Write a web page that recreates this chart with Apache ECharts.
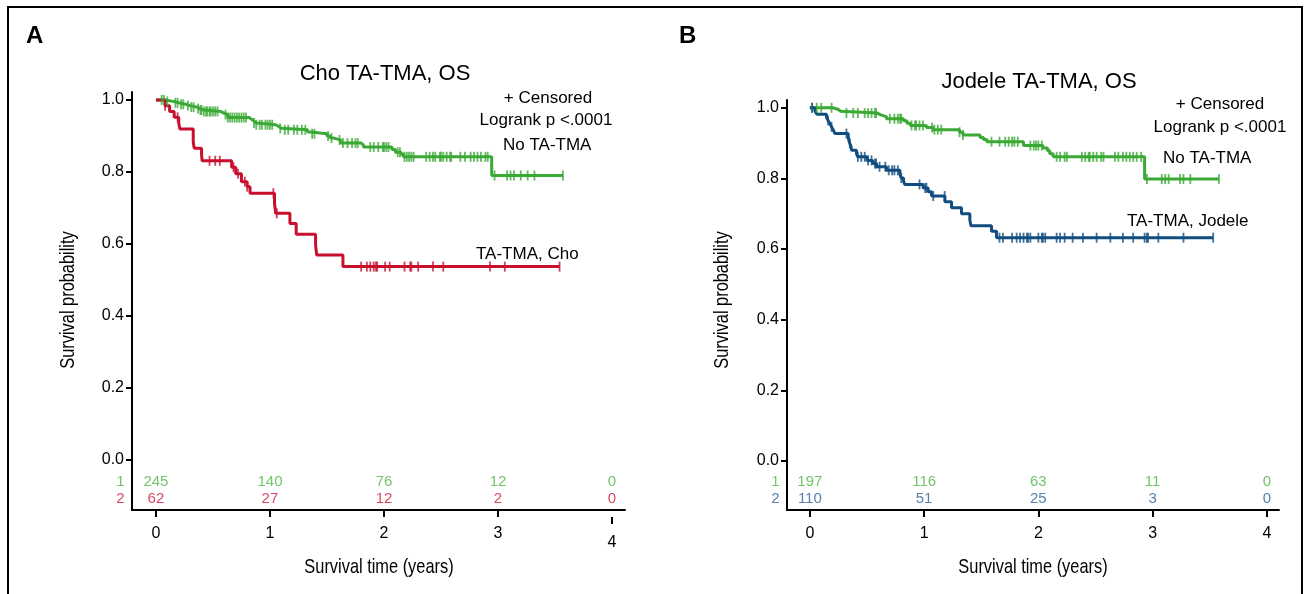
<!DOCTYPE html>
<html>
<head>
<meta charset="utf-8">
<script src="https://cdn.jsdelivr.net/npm/echarts@6/dist/echarts.min.js"></script>
<style>html,body{margin:0;padding:0;background:#fff;}#c{width:1305px;height:594px;}</style>
</head>
<body>
<div id="c"></div>
<script>
// ---------- DATA ----------
const xTicks = [0, 1, 2, 3, 4];
const yTicks = [0, 0.2, 0.4, 0.6, 0.8, 1.0];
const riskTimes = [0, 1, 2, 3, 4];

// Panel A (Cho) - steps: [time, survival after event]
const aGreenSteps = [[0,1],[0.08,0.996],[0.15,0.992],[0.20,0.988],[0.26,0.984],[0.30,0.980],[0.36,0.976],[0.38,0.972],[0.42,0.968],[0.57,0.964],[0.59,0.959],[0.63,0.951],[0.82,0.946],[0.84,0.941],[0.86,0.936],[0.88,0.931],[1.05,0.926],[1.08,0.921],[1.10,0.917],[1.33,0.911],[1.36,0.906],[1.50,0.900],[1.53,0.894],[1.56,0.889],[1.62,0.880],[1.80,0.875],[1.82,0.869],[2.07,0.862],[2.10,0.855],[2.15,0.849],[2.17,0.842],[2.945,0.790]];
const aGreenEnd = 3.57;
const aGreenCens = [0.05,0.07,0.10,0.17,0.19,0.22,0.24,0.28,0.31,0.33,0.37,0.39,0.40,0.42,0.44,0.45,0.47,0.48,0.50,0.52,0.54,0.61,0.63,0.65,0.67,0.69,0.71,0.73,0.75,0.77,0.79,0.86,0.88,0.91,0.93,0.96,0.98,1.00,1.02,1.09,1.13,1.16,1.21,1.24,1.28,1.31,1.37,1.39,1.51,1.54,1.61,1.64,1.68,1.72,1.75,1.77,1.88,1.91,1.95,1.99,2.00,2.02,2.04,2.12,2.14,2.18,2.20,2.22,2.24,2.26,2.37,2.40,2.43,2.45,2.49,2.50,2.52,2.55,2.58,2.59,2.67,2.71,2.76,2.79,2.82,2.85,2.89,2.91,2.97,3.08,3.11,3.14,3.20,3.26,3.32,3.57];

const aRedSteps = [[0,1],[0.08,0.984],[0.12,0.968],[0.16,0.952],[0.20,0.935],[0.21,0.919],[0.327,0.884],[0.335,0.866],[0.40,0.849],[0.405,0.831],[0.664,0.813],[0.70,0.795],[0.75,0.773],[0.80,0.759],[0.825,0.741],[1.04,0.713],[1.05,0.685],[1.175,0.657],[1.23,0.627],[1.40,0.598],[1.41,0.569],[1.64,0.537]];
const aRedEnd = 3.54;
const aRedCens = [0.08,0.19,0.47,0.52,0.56,0.68,0.72,0.78,0.80,1.03,1.06,1.80,1.85,1.88,1.91,1.93,1.94,2.01,2.05,2.18,2.23,2.24,2.30,2.43,2.52,2.93,3.06,3.54];

const aRisk1 = [245, 140, 76, 12, 0];
const aRisk2 = [62, 27, 12, 2, 0];

// Panel B (Jodele)
const bGreenSteps = [[0,1],[0.20,0.995],[0.25,0.990],[0.27,0.985],[0.59,0.980],[0.62,0.975],[0.67,0.969],[0.82,0.963],[0.85,0.956],[0.88,0.950],[1.02,0.944],[1.08,0.938],[1.31,0.931],[1.34,0.923],[1.49,0.916],[1.52,0.910],[1.55,0.904],[1.87,0.893],[2.04,0.886],[2.08,0.878],[2.10,0.870],[2.13,0.861],[2.93,0.798]];
const bGreenEnd = 3.58;
const bGreenCens = [0.02,0.06,0.10,0.19,0.32,0.38,0.42,0.48,0.51,0.54,0.57,0.58,0.70,0.74,0.77,0.79,0.80,0.89,0.92,0.93,0.96,0.99,1.07,1.09,1.12,1.15,1.31,1.34,1.59,1.66,1.71,1.74,1.77,1.79,1.82,1.93,1.96,1.98,2.00,2.03,2.16,2.19,2.23,2.25,2.38,2.41,2.44,2.45,2.48,2.51,2.55,2.57,2.67,2.70,2.74,2.77,2.80,2.83,2.86,2.90,2.95,3.08,3.11,3.14,3.24,3.27,3.33,3.58];

const bBlueSteps = [[0,1],[0.045,0.991],[0.06,0.982],[0.146,0.973],[0.16,0.964],[0.175,0.955],[0.19,0.946],[0.205,0.937],[0.22,0.927],[0.336,0.918],[0.34,0.909],[0.35,0.899],[0.36,0.890],[0.365,0.880],[0.408,0.870],[0.42,0.861],[0.50,0.851],[0.55,0.842],[0.584,0.833],[0.671,0.823],[0.788,0.812],[0.80,0.801],[0.82,0.792],[0.831,0.783],[0.992,0.773],[1.036,0.762],[1.065,0.750],[1.182,0.734],[1.24,0.717],[1.327,0.700],[1.40,0.683],[1.41,0.666],[1.59,0.650],[1.634,0.632]];
const bBlueEnd = 3.53;
const bBlueCens = [0.02,0.16,0.19,0.32,0.35,0.42,0.45,0.48,0.51,0.54,0.57,0.58,0.61,0.66,0.69,0.72,0.74,0.77,0.80,0.96,1.01,1.02,1.08,1.18,1.66,1.69,1.77,1.81,1.84,1.87,1.90,1.91,1.93,2.00,2.03,2.04,2.06,2.16,2.19,2.23,2.30,2.39,2.51,2.63,2.74,2.83,2.93,2.95,2.96,3.05,3.27,3.53];

const bRisk1 = [197, 116, 63, 11, 0];
const bRisk2 = [110, 51, 25, 3, 0];

// ---------- HELPERS ----------
function kmLine(steps, end) {
  const d = steps.map(s => [s[0], s[1]]);
  d.push([end, steps[steps.length - 1][1]]);
  return d;
}
function survAt(steps, t) {
  let v = steps[0][1];
  for (const s of steps) { if (s[0] <= t) v = s[1]; }
  return v;
}
function cens(steps, times) { return times.map(t => [t, survAt(steps, t)]); }

const GREEN = '#3aa935', RED = '#c8102e', BLUE = '#124d80';
const GREEN_T = '#4fb444', RED_T = '#d0183a', BLUE_T = '#2d6097';
const FONT = "'Liberation Sans', Arial, Helvetica, sans-serif";

function lineSeries(g, data, color) {
  return { type: 'line', xAxisIndex: g === 0 ? 0 : 2, yAxisIndex: g, data: data, step: 'end',
    showSymbol: false, symbol: 'none', lineStyle: { color: color, width: 3 }, silent: true, z: 3, clip: false };
}
function censSeries(g, data, color) {
  return { type: 'scatter', xAxisIndex: g === 0 ? 0 : 2, yAxisIndex: g, data: data, symbol: 'rect',
    symbolSize: [1.8, 10], itemStyle: { color: color }, silent: true, z: 4, clip: false };
}
function riskSeries(g, yv, vals, color, rowLabel) {
  const data = riskTimes.map((t, i) => [t, yv, vals[i]]);
  return [{ type: 'scatter', xAxisIndex: g === 0 ? 0 : 2, yAxisIndex: g, data: data, symbolSize: 1,
    itemStyle: { color: 'rgba(0,0,0,0)' }, silent: true, clip: false,
    label: { show: true, position: 'inside', formatter: p => String(p.value[2]), color: color, fontSize: 15, fontFamily: FONT } },
   { type: 'scatter', xAxisIndex: g === 0 ? 0 : 2, yAxisIndex: g, data: [[g === 0 ? -0.21 : -0.2, yv, rowLabel]], symbolSize: 1,
    itemStyle: { color: 'rgba(0,0,0,0)' }, silent: true, clip: false,
    label: { show: true, position: 'left', distance: 7, formatter: p => String(p.value[2]), color: color, fontSize: 15, fontFamily: FONT } }];
}

function xAxisBase(grid, min, max, ticks, extra) {
  return Object.assign({
    type: 'value', gridIndex: grid, min: min, max: max, position: 'bottom',
    splitLine: { show: false },
    axisLine: { show: true, onZero: false, lineStyle: { color: '#000', width: 2 } },
    axisTick: { show: true, customValues: ticks, length: 7, lineStyle: { color: '#000', width: 2 } },
    axisLabel: { show: true, customValues: ticks, color: '#000', fontSize: 16, fontFamily: FONT, margin: 16 }
  }, extra || {});
}
function yAxisBase(grid, min, max) {
  return {
    type: 'value', gridIndex: grid, min: min, max: max,
    splitLine: { show: false },
    axisLine: { show: true, onZero: false, lineStyle: { color: '#000', width: 2 } },
    axisTick: { show: true, customValues: yTicks, length: 6, lineStyle: { color: '#000', width: 2 } },
    axisLabel: { show: true, customValues: yTicks, color: '#000', fontSize: 16, fontFamily: FONT, margin: 8,
      formatter: v => v.toFixed(1) }
  };
}
function narrowText(txt, x, y, rot) {
  return { type: 'text', x: x, y: y, rotation: rot || 0, scaleX: 0.78, silent: true,
    style: { text: txt, font: "21px " + FONT, fill: '#000', align: 'center', verticalAlign: 'middle' } };
}
function plainText(txt, x, y, align) {
  return { type: 'text', x: x, y: y, silent: true,
    style: { text: txt, font: "17px " + FONT, fill: '#000', align: align, verticalAlign: 'middle' } };
}

const chart = echarts.init(document.getElementById('c'), null, { renderer: 'canvas' });

const option = {
  animation: false,
  backgroundColor: '#fff',
  title: [
    { text: 'Cho TA-TMA, OS', left: 380, top: 58, textAlign: 'center',
      textStyle: { fontFamily: FONT, fontSize: 22, fontWeight: 'normal', color: '#000' } },
    { text: 'Jodele TA-TMA, OS', left: 1034, top: 66, textAlign: 'center',
      textStyle: { fontFamily: FONT, fontSize: 22, fontWeight: 'normal', color: '#000' } }
  ],
  grid: [
    { left: 132, top: 92, width: 493, bottom: 84, containLabel: false, outerBoundsMode: 'none' },
    { left: 787, top: 100, width: 492, bottom: 84, containLabel: false, outerBoundsMode: 'none' }
  ],
  xAxis: [
    xAxisBase(0, -0.21, 4.114, [0, 1, 2, 3]),
    xAxisBase(0, -0.21, 4.114, [4], { offset: 7, axisLine: { show: false, onZero: false },
      axisLabel: { show: true, customValues: [4], color: '#000', fontSize: 16, fontFamily: FONT, margin: 18 } }),
    xAxisBase(1, -0.2, 4.106, xTicks)
  ],
  yAxis: [ yAxisBase(0, -0.139, 1.022), yAxisBase(1, -0.139, 1.022) ],
  graphic: [
    { type: 'polyline', shape: { points: [[8, 600], [8, 7], [1302, 7], [1302, 600]] },
      style: { stroke: '#000', lineWidth: 2, fill: null }, silent: true },
    { type: 'text', left: 26, top: 24, style: { text: 'A', font: "bold 24px " + FONT, fill: '#000' } },
    { type: 'text', left: 679, top: 24, style: { text: 'B', font: "bold 24px " + FONT, fill: '#000' } },
    narrowText('Survival time (years)', 379, 567, 0),
    narrowText('Survival time (years)', 1033, 567, 0),
    narrowText('Survival probability', 68, 300, Math.PI / 2),
    narrowText('Survival probability', 722, 300, Math.PI / 2),
    plainText('+ Censored', 548, 98, 'center'),
    plainText('Logrank p <.0001', 546, 120, 'center'),
    plainText('No TA-TMA', 503, 145, 'left'),
    plainText('TA-TMA, Cho', 476, 254, 'left'),
    plainText('+ Censored', 1220, 104, 'center'),
    plainText('Logrank p <.0001', 1220, 127, 'center'),
    plainText('No TA-TMA', 1163, 158, 'left'),
    plainText('TA-TMA, Jodele', 1127, 221, 'left')
  ],
  series: [
    lineSeries(0, kmLine(aGreenSteps, aGreenEnd), GREEN),
    censSeries(0, cens(aGreenSteps, aGreenCens), GREEN),
    lineSeries(0, kmLine(aRedSteps, aRedEnd), RED),
    censSeries(0, cens(aRedSteps, aRedCens), RED),
    ...riskSeries(0, -0.061, aRisk1, GREEN_T, '1'),
    ...riskSeries(0, -0.108, aRisk2, RED_T, '2'),
    lineSeries(1, kmLine(bGreenSteps, bGreenEnd), GREEN),
    censSeries(1, cens(bGreenSteps, bGreenCens), GREEN),
    lineSeries(1, kmLine(bBlueSteps, bBlueEnd), BLUE),
    censSeries(1, cens(bBlueSteps, bBlueCens), BLUE),
    ...riskSeries(1, -0.059, bRisk1, GREEN_T, '1'),
    ...riskSeries(1, -0.108, bRisk2, BLUE_T, '2')
  ]
};
chart.setOption(option);
</script>
</body>
</html>
